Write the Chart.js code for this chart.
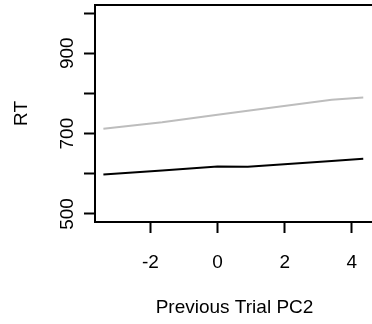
<!DOCTYPE html>
<html>
<head>
<meta charset="utf-8">
<script src="https://cdn.jsdelivr.net/npm/chart.js@4/dist/chart.umd.min.js"></script>
<style>
  html, body { margin: 0; padding: 0; background: #fff; overflow: hidden; }
  canvas { display: block; }
</style>
</head>
<body>
<canvas id="grafico" width="380" height="324"></canvas>
<script>
// dados
const xPC2 = [-3.4, -1.65, 0, 0.9, 3.4, 4.34];
const rtCinza = [712, 728, 747, 757, 784, 790];
const rtPreto = [598, 608, 618, 617.5, 632, 637.6];
const xTicks = [-2, 0, 2, 4];
const yTicks = [500, 600, 700, 800, 900, 1000];
const yRotulos = [500, 700, 900];

const fonte = { family: "'Liberation Sans', Arial, sans-serif", size: 19 };

// caixa em volta da área do gráfico (estilo R)
const moldura = {
    id: 'moldura',
    afterDraw(chart) {
        const { ctx, chartArea: a } = chart;
        ctx.save();
        ctx.strokeStyle = '#000';
        ctx.lineWidth = 2;
        ctx.strokeRect(a.left, a.top, a.right - a.left, a.bottom - a.top);
        ctx.restore();
    }
};

const pontos = (ys) => xPC2.map((x, i) => ({ x: x, y: ys[i] }));

const ctx = document.getElementById('grafico').getContext('2d');

new Chart(ctx, {
    type: 'line',
    data: {
        datasets: [
            { data: pontos(rtCinza), borderColor: '#bdbdbd', borderWidth: 2, pointRadius: 0, tension: 0 },
            { data: pontos(rtPreto), borderColor: '#000000', borderWidth: 2, pointRadius: 0, tension: 0 }
        ]
    },
    options: {
        responsive: false,
        animation: false,
        devicePixelRatio: 1,
        layout: { padding: { top: 5, right: 6, left: 0, bottom: 0 } },
        plugins: {
            legend: { display: false },
            tooltip: { enabled: false }
        },
        scales: {
            x: {
                type: 'linear',
                min: -3.65,
                max: 4.66,
                afterBuildTicks: (s) => { s.ticks = xTicks.map(v => ({ value: v })); },
                afterFit: (s) => { s.height = 102; s.paddingLeft = 0; s.paddingRight = 0; },
                border: { display: false },
                grid: { drawOnChartArea: false, drawTicks: true, tickLength: 11, tickWidth: 2, tickColor: '#000', color: '#000' },
                ticks: { color: '#000', font: fonte, padding: 18, maxRotation: 0, autoSkip: false },
                title: { display: true, text: 'Previous Trial PC2', color: '#000', font: fonte, padding: { top: 0, bottom: 4.6 } }
            },
            y: {
                type: 'linear',
                min: 480,
                max: 1020,
                afterBuildTicks: (s) => { s.ticks = yTicks.map(v => ({ value: v })); },
                afterFit: (s) => { s.width = 95; s.paddingTop = 0; s.paddingBottom = 0; },
                border: { display: false },
                grid: { drawOnChartArea: false, drawTicks: true, tickLength: 11, tickWidth: 2, tickColor: '#000', color: '#000' },
                ticks: {
                    color: '#000', font: fonte, padding: 0,
                    minRotation: 90, maxRotation: 90, crossAlign: 'center', autoSkip: false,
                    callback: (v) => yRotulos.includes(v) ? String(v) : ''
                },
                title: { display: true, text: 'RT', color: '#000', font: fonte, padding: { top: 10, bottom: 0 } }
            }
        }
    },
    plugins: [moldura]
});
</script>
</body>
</html>
